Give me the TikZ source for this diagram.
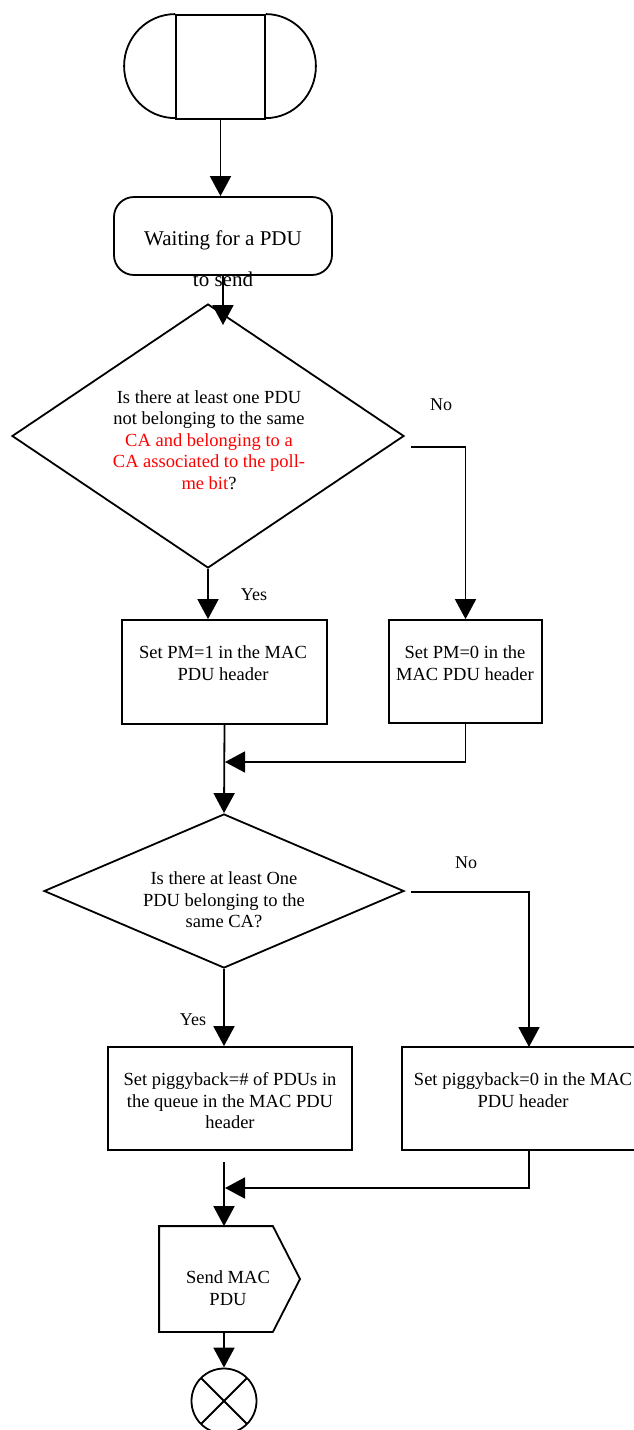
\documentclass[tikz,border=0pt]{standalone}
\usepackage{fontspec}
\setmainfont{Liberation Serif}
\usetikzlibrary{arrows.meta,shapes.geometric}
\begin{document}
\begin{tikzpicture}[x=1pt,y=-1pt,line width=1.8pt,
  txt/.style={font=\fontsize{18.5}{21.5}\selectfont,align=center,inner sep=0pt},
  lbl/.style={font=\fontsize{18}{21}\selectfont,inner sep=0pt},
  box/.style={draw,rectangle,inner sep=0pt},
  dia/.style={draw,diamond,inner sep=0pt},
  arr/.style={-{Triangle[length=20pt,width=21pt]}}]
\useasboundingbox (0,0) rectangle (634,1430);
\clip (0,0) rectangle (634,1430);
% start terminator
\node[box,minimum width=89pt,minimum height=104pt] (start) at (220.5,67) {};
\draw (start.north west) arc[start angle=90,end angle=270,x radius=51pt,y radius=52pt];
\draw (start.north east) arc[start angle=90,end angle=-90,x radius=50pt,y radius=52pt];
% waiting
\node[box,rounded corners=20pt,minimum width=218pt,minimum height=78pt] (wait) at (223,236) {};
\node[font=\fontsize{21}{41}\selectfont,align=center,inner sep=0pt] (waitt) at (223,258.5) {Waiting for a PDU\\to send};
% decision 1
\node[dia,minimum width=392pt,minimum height=264pt] (d1) at (208,436) {};
\node[txt] (d1t) at (209,440) {Is there at least one PDU\\not belonging to the same\\\textcolor{red}{CA and belonging to a}\\\textcolor{red}{CA associated to the poll-}\\\textcolor{red}{me bit}?};
% PM boxes
\node[box,minimum width=205pt,minimum height=104pt] (pm1) at (224.5,672) {};
\node[txt] (pm1t) at (223,663) {Set PM=1 in the MAC\\PDU header};
\node[box,minimum width=153pt,minimum height=103pt] (pm0) at (465.5,671.5) {};
\node[txt] (pm0t) at (465,663) {Set PM=0 in the\\MAC PDU header};
% decision 2
\node[dia,minimum width=360pt,minimum height=154pt] (d2) at (224,891) {};
\node[txt] (d2t) at (224,900) {Is there at least One\\PDU belonging to the\\same CA?};
% piggyback boxes
\node[box,minimum width=244pt,minimum height=103pt] (pgb) at (230,1098.5) {};
\node[txt] (pgbt) at (230,1101) {Set piggyback=\# of PDUs in\\the queue in the MAC PDU\\header};
\node[box,minimum width=242pt,minimum height=103pt] (pgz) at (523,1098.5) {};
\node[txt] (pgzt) at (523,1090) {Set piggyback=0 in the MAC\\PDU header};
% send
\node[minimum width=112pt,minimum height=104pt,inner sep=0pt] (send) at (216,1279) {};
\draw (send.north west) -- (send.north east) -- (300,1279) -- (send.south east) -- (send.south west) -- cycle;
\node[txt] (sendt) at (228,1288) {Send MAC\\PDU};
% end
\node[draw,circle,minimum size=65pt,inner sep=0pt,
  path picture={\draw (path picture bounding box.north west) -- (path picture bounding box.south east)
                      (path picture bounding box.north east) -- (path picture bounding box.south west);}] (end) at (224,1401) {};
% labels
\node[lbl] (no1) at (441,405) {No};
\node[lbl] (yes1) at (254,595) {Yes};
\node[lbl] (no2) at (466,863) {No};
\node[lbl] (yes2) at (193,1020) {Yes};
% connectors
\draw[arr] (start.south) -- (start.south |- wait.north);
\coordinate (w2) at (223,325);
\draw[arr] (wait.south) -- (w2);
\draw[arr] (d1.south) -- (d1.south |- pm1.north);
\coordinate (n1) at (411,447);
\draw[arr] (n1) -| (pm0.north);
\draw[arr] (pm1.south) -- (d2.north);
\coordinate (j1) at (225,762);
\draw[arr] (pm0.south) |- (j1);
\coordinate (n2) at (411,892);
\coordinate (n2e) at (529,1047);
\draw[arr] (n2) -| (n2e);
\draw[arr] (d2.south) -- (d2.south |- pgb.north);
\coordinate (r2) at (529,1150);
\coordinate (j2) at (225,1188);
\draw[arr] (r2) |- (j2);
\coordinate (j2s) at (224,1162);
\draw[arr] (j2s) -- (j2s |- send.north);
\draw[arr] (end.north |- send.south) -- (end.north);
\end{tikzpicture}
\end{document}
